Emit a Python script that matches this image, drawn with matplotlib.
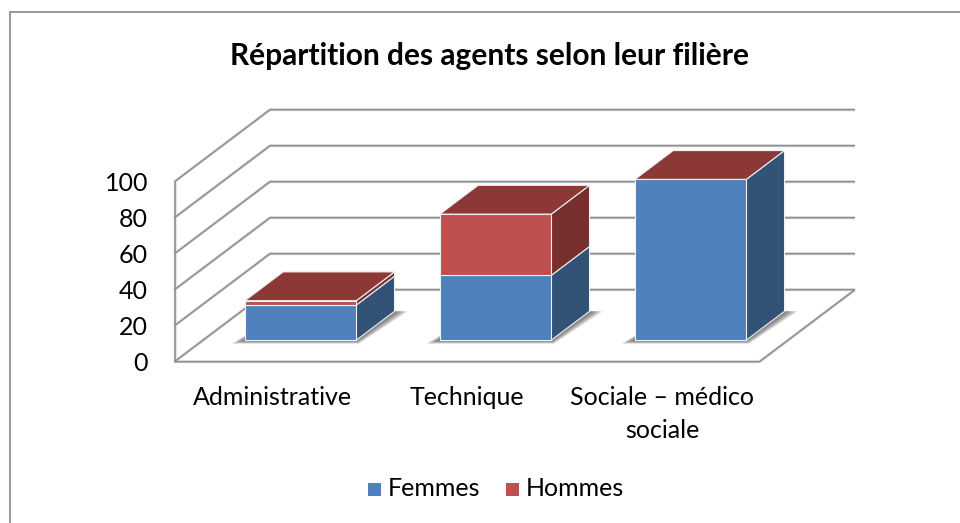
import matplotlib
matplotlib.use("Agg")
import matplotlib.pyplot as plt
from matplotlib.patches import Polygon

CATEGORIES = ["Administrative", "Technique", "Sociale – médico\nsociale"]
FEMMES = [19.5, 36.0, 89.3]
HOMMES = [2.4, 34.0, 0.0]
Y_TICKS = [0, 20, 40, 60, 80, 100]

W, H = 960, 523
BAR_W = 0.571
GRID = "#8f8f8f"
TEXT = "#000000"
BLUE = ("#4f81bd", "#325376", "#3a6496")     # front, side, top
RED = ("#c0504d", "#772f2d", "#8c3836")

plt.rcParams["font.family"] = ["Lato", "DejaVu Sans"]

fig = plt.figure(figsize=(W / 100, H / 100), dpi=100, facecolor="white")
# axes = the front plane of the 3d box, in pixels of the original
x0, x1, y_top, y_bot = 174.5, 759.5, 181.7, 361.7
ax = fig.add_axes([x0 / W, 1 - y_bot / H, (x1 - x0) / W, (y_bot - y_top) / H])
ax.set_xlim(0, 3)
ax.set_ylim(0, 100)
ax.patch.set_alpha(0)

PX_X = 3 / (x1 - x0)
PX_Y = 100 / (y_bot - y_top)
DEPTH_X = 95.5 * PX_X     # floor depth, in data units
DEPTH_Y = 72 * PX_Y


def sk(x, y, d=0.0):
    """chart position (category, value, depth 0..1) to 2d data coords"""
    return (x + d * DEPTH_X, y + d * DEPTH_Y)


def poly(pts, fc, ec="#eef1f5", lw=0.8, z=3, alpha=None):
    ax.add_patch(Polygon(pts, closed=True, fc=fc, ec=ec, lw=lw, zorder=z,
                         alpha=alpha, clip_on=False, joinstyle="round"))


def line(pts, z=1):
    xs, ys = zip(*pts)
    ax.plot(xs, ys, color="#e6e6e6", lw=2.4, zorder=z - 0.1, clip_on=False,
            solid_capstyle="butt")
    ax.plot(xs, ys, color=GRID, lw=1.2, zorder=z, clip_on=False,
            solid_capstyle="butt")


# walls and floor
for v in Y_TICKS:
    line([sk(0, v), sk(0, v, 1), sk(3, v, 1)])
line([sk(0, 0), sk(3, 0), sk(3, 0, 1)])
line([sk(0, 0), sk(0, 100)])

# bars
D0, D1 = 0.30, 0.70
for i, (f, h) in enumerate(zip(FEMMES, HOMMES)):
    left = i + (1 - BAR_W) / 2
    right = left + BAR_W
    # soft shadow on the floor
    for k in range(1, 7):
        mx, my = k * 2.2 * PX_X, k * 0.6 * PX_Y
        poly([sk(left - mx, -my, D0), sk(right + mx * 0.2, -my, D0),
              sk(right + mx, 0, D1), sk(left, 0, D1)],
             "#404040", ec="none", lw=0, z=2, alpha=0.17)
    base = 0.0
    for val, (front, side, top) in zip((f, h), (BLUE, RED)):
        if val > 0:
            poly([sk(right, base, D0), sk(right, base, D1),
                  sk(right, base + val, D1), sk(right, base + val, D0)], side)
            poly([sk(left, base, D0), sk(right, base, D0),
                  sk(right, base + val, D0), sk(left, base + val, D0)], front)
        base += val
    poly([sk(left, base, D0), sk(right, base, D0),
          sk(right, base, D1), sk(left, base, D1)], RED[2], z=3.5)

# axes text
for s in ax.spines.values():
    s.set_visible(False)
ax.set_yticks(Y_TICKS)
ax.set_xticks([0.5, 1.5, 2.5])
ax.set_xticklabels(CATEGORIES, linespacing=1.5)
ax.tick_params(axis="both", length=0, labelsize=18, colors=TEXT)
ax.tick_params(axis="y", pad=19)
ax.tick_params(axis="x", pad=17.5)

fig.text(490 / W, 1 - 56 / H, "Répartition des agents selon leur filière",
         ha="center", va="center", fontsize=21.5, fontweight="bold", color="#000000")

# legend, laid out by hand like the original
for px, label, col, tx in [(368, "Femmes", BLUE[0], 388), (506, "Hommes", RED[0], 526)]:
    fig.patches.append(plt.Rectangle((px / W, 1 - 496 / H), 13 / W, 13 / H, fc=col, ec="none",
                                     transform=fig.transFigure))
    fig.text(tx / W, 1 - 489 / H, label, ha="left", va="center", fontsize=18, color=TEXT)

# outer frame: only left and top are in the crop
fig.add_artist(plt.Line2D([9.5 / W, 9.5 / W], [0, 1 - 11.5 / H], color="#9a9a9a", lw=1.4))
fig.add_artist(plt.Line2D([9.5 / W, 1], [1 - 11.5 / H, 1 - 11.5 / H], color="#9a9a9a", lw=1.4))

fig.savefig("out.png", dpi=100)
